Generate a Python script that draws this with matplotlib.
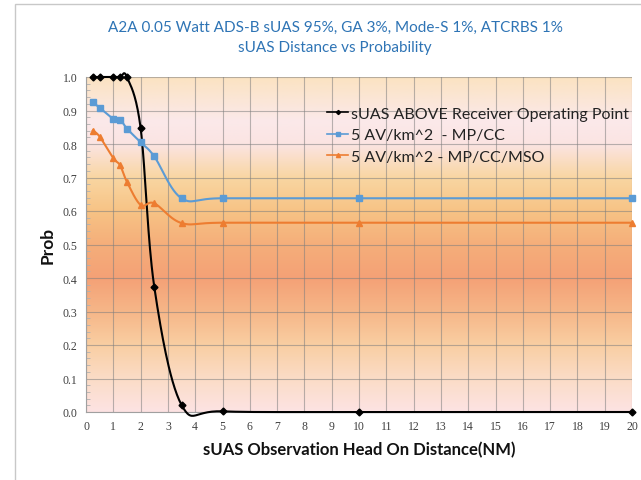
import numpy as np
import matplotlib
matplotlib.use("Agg")
import matplotlib.pyplot as plt
from matplotlib.colors import LinearSegmentedColormap
from matplotlib.patches import Rectangle

# ---- data ----
x_vals = [0.25, 0.5, 1.0, 1.25, 1.5, 2.0, 2.5, 3.5, 5, 10, 20]
above_op = [1.0, 1.0, 1.0, 1.0, 1.0, 0.848, 0.374, 0.021, 0.002, 0.0, 0.0]
mp_cc = [0.925, 0.908, 0.875, 0.873, 0.846, 0.805, 0.763, 0.638, 0.638, 0.638, 0.638]
mp_cc_mso = [0.840, 0.822, 0.758, 0.736, 0.687, 0.618, 0.623, 0.564, 0.565, 0.565, 0.565]
series_names = ["sUAS ABOVE Receiver Operating Point",
                "5 AV/km^2  - MP/CC",
                "5 AV/km^2 - MP/CC/MSO"]
x_ticks = list(range(0, 21))
y_ticks = [0.0, 0.1, 0.2, 0.3, 0.4, 0.5, 0.6, 0.7, 0.8, 0.9, 1.0]

title_text = "A2A 0.05 Watt ADS-B sUAS 95%, GA 3%, Mode-S 1%, ATCRBS 1%\nsUAS Distance vs Probability"
xlabel_text = "sUAS Observation Head On Distance(NM)"
ylabel_text = "Prob"


def smooth(xs, ys, n=30):
    """Excel-style smoothed line (Catmull-Rom Bezier)."""
    P = np.column_stack([xs, ys]).astype(float)
    out = [P[0]]
    m = len(P)
    t = np.linspace(0, 1, n)[1:]
    for i in range(m - 1):
        p0 = P[i - 1] if i > 0 else P[i]
        p1 = P[i]
        p2 = P[i + 1]
        p3 = P[i + 2] if i + 2 < m else P[i + 1]
        c1 = p1 + (p2 - p0) / 6.0
        c2 = p2 - (p3 - p1) / 6.0
        for tt in t:
            b = ((1 - tt) ** 3) * p1 + 3 * ((1 - tt) ** 2) * tt * c1 + 3 * (1 - tt) * tt ** 2 * c2 + tt ** 3 * p2
            out.append(b)
    out = np.array(out)
    return out[:, 0], out[:, 1]


fig = plt.figure(figsize=(6.41, 4.81), dpi=100)
fig.patch.set_facecolor("white")
# outer chart border
fig.patches.append(Rectangle((15 / 641, -0.01), 1.0, 1 - 5 / 481 + 0.01, transform=fig.transFigure,
                             fill=False, edgecolor="#c8c8c8", linewidth=1.0))

ax = fig.add_axes([86 / 641, 68 / 481, 546 / 641, 335 / 481])

# gradient background
stops = [(0.0, "#fde3e3"), (0.1, "#fbdcc6"), (0.2, "#f9cea2"), (0.3, "#f6b688"),
         (0.4, "#f4a176"), (0.5, "#f5ae7a"), (0.6, "#f7c385"), (0.7, "#f9d6a2"),
         (0.8, "#fbe4e2"), (0.87, "#fbe9ea"), (1.0, "#fbe3c2")]
cmap = LinearSegmentedColormap.from_list("bg", stops)
grad = np.linspace(0, 1, 256).reshape(-1, 1)
ax.imshow(grad, cmap=cmap, aspect="auto", extent=[0, 1, 0, 1], origin="lower",
          transform=ax.transAxes, zorder=0)

ax.set_xlim(0, 20)
ax.set_ylim(0, 1.0)
ax.set_xticks(x_ticks)
ax.set_yticks(y_ticks)
ax.set_yticklabels([f"{v:.1f}" for v in y_ticks])
ax.set_yticks(np.arange(0, 1.0001, 0.02), minor=True)
ax.set_axisbelow(True)
ax.grid(True, which="major", color="#7f7f7f", alpha=0.55, linewidth=0.8)
for s in ["top", "right"]:
    ax.spines[s].set_visible(False)
for s in ["left", "bottom"]:
    ax.spines[s].set_color("#a0a0a0")
ax.tick_params(axis="both", which="major", length=0, labelsize=8.5, labelcolor="#404040", pad=6)
ax.tick_params(axis="y", which="minor", length=3, direction="in", color="#b0b0b0")
for lbl in ax.get_xticklabels() + ax.get_yticklabels():
    lbl.set_fontfamily("Liberation Serif")

styles = [
    (above_op, "black", "D", 3.5),
    (mp_cc, "#5b9bd5", "s", 5),
    (mp_cc_mso, "#ed7d31", "^", 5),
]
handles = []
for (ys, col, mk, ms), name in zip(styles, series_names):
    sx, sy = smooth(x_vals, ys)
    ax.plot(sx, sy, color=col, linewidth=1.5, zorder=3, clip_on=False)
    ax.plot(x_vals, ys, linestyle="none", marker=mk, color=col, markersize=ms, zorder=4, clip_on=False)
    h, = ax.plot([], [], color=col, marker=mk, markersize=ms * 0.6, linewidth=1.2, label=name)
    handles.append(h)

leg = ax.legend(handles=handles, loc="upper left", bbox_to_anchor=(0.43, 0.93), frameon=False,
                prop={"family": "Lato", "size": 11.5}, handlelength=1.3, handletextpad=0.2,
                labelspacing=0.45, borderaxespad=0)
for t in leg.get_texts():
    t.set_color("#222222")

ax.set_xlabel(xlabel_text, fontfamily="Lato", fontweight="bold", fontsize=12, color="#111111", labelpad=6)
ax.set_ylabel(ylabel_text, fontfamily="Lato", fontweight="bold", fontsize=12.5, color="#111111", labelpad=5)

fig.text(335 / 641, 1 - 38 / 481, title_text, ha="center", va="center", fontfamily="Lato",
         fontsize=11, color="#2e74b5", linespacing=1.5)

fig.savefig("out.png", dpi=100)
